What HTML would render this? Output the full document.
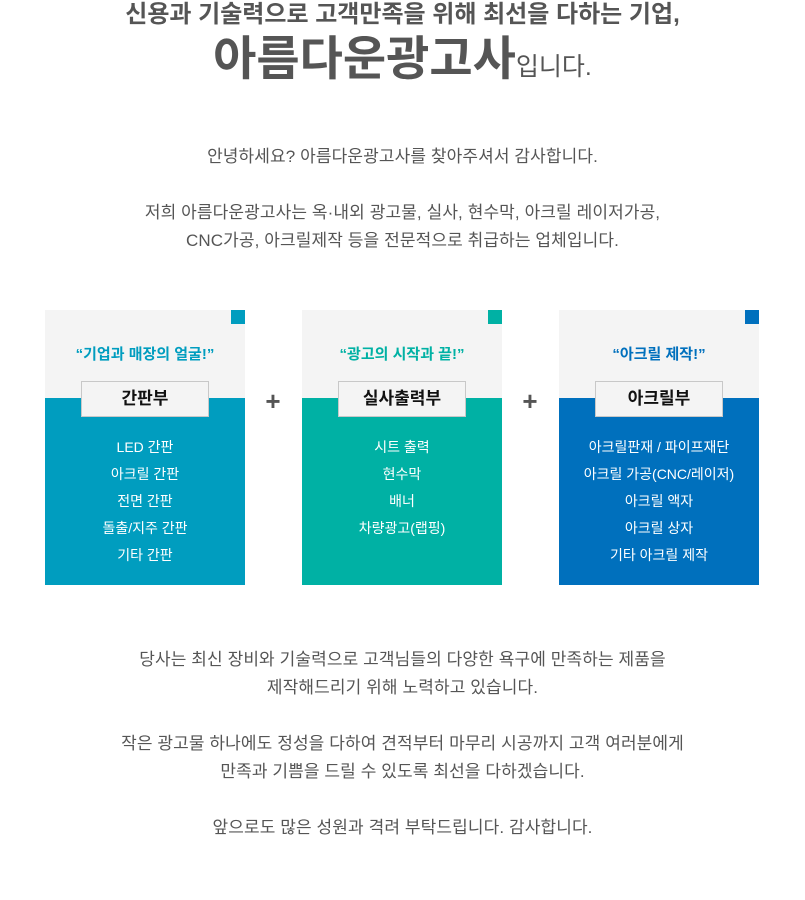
<!DOCTYPE html>
<html><head><meta charset="utf-8"><style>
*{margin:0;padding:0;box-sizing:border-box}
body{width:805px;height:900px;background:#fff;font-family:"Liberation Sans","Noto Sans CJK KR",sans-serif;color:#555;position:relative;overflow:hidden}
.t{position:absolute;left:0;width:805px;text-align:center;white-space:nowrap}
.box{position:absolute;top:310px;width:200px;height:275px;background:#f4f4f4}
.box .c{position:absolute;left:0;top:88px;width:200px;height:187px}
.box .sq{position:absolute;right:0;top:0;width:14px;height:14px}
.box .q{position:absolute;top:33px;width:200px;text-align:center;font-size:15px;font-weight:bold}
.box .l{position:absolute;left:36px;top:71px;width:128px;height:36px;background:#f4f4f4;border:1px solid #c8c8c8;text-align:center;line-height:34px;font-size:17px;font-weight:bold;color:#111}
.box .it{position:absolute;top:124px;width:200px;text-align:center;color:#fff;font-size:14px;line-height:27px}
.plus{position:absolute;top:386px;font-size:26px;font-weight:bold;color:#555;width:30px;text-align:center}
.p{font-size:17px;line-height:28px;letter-spacing:0.1px}
</style></head><body>
<div class="t" style="top:0;font-size:24px;font-weight:bold;line-height:30px">신용과 기술력으로 고객만족을 위해 최선을 다하는 기업,</div>
<div class="t" style="top:30px;font-size:47px;font-weight:bold;line-height:58px;color:#555">아름다운광고사<span style="font-size:25px;font-weight:normal">입니다.</span></div>
<div class="t p" style="top:143px">안녕하세요? 아름다운광고사를 찾아주셔서 감사합니다.</div>
<div class="t p" style="top:199px">저희 아름다운광고사는 옥·내외 광고물, 실사, 현수막, 아크릴 레이저가공,<br>CNC가공, 아크릴제작 등을 전문적으로 취급하는 업체입니다.</div>

<div class="box" style="left:45px"><div class="c" style="background:#009dbf"></div><div class="sq" style="background:#009dbf"></div><div class="q" style="color:#009dbf">“기업과 매장의 얼굴!”</div><div class="l">간판부</div><div class="it">LED 간판<br>아크릴 간판<br>전면 간판<br>돌출/지주 간판<br>기타 간판</div></div>
<div class="plus" style="left:258px">+</div>
<div class="box" style="left:302px"><div class="c" style="background:#00b1a4"></div><div class="sq" style="background:#00b1a4"></div><div class="q" style="color:#00b1a4">“광고의 시작과 끝!”</div><div class="l">실사출력부</div><div class="it">시트 출력<br>현수막<br>배너<br>차량광고(랩핑)</div></div>
<div class="plus" style="left:515px">+</div>
<div class="box" style="left:559px"><div class="c" style="background:#0070bd"></div><div class="sq" style="background:#0070bd"></div><div class="q" style="color:#0070bd">“아크릴 제작!”</div><div class="l">아크릴부</div><div class="it">아크릴판재 / 파이프재단<br>아크릴 가공(CNC/레이저)<br>아크릴 액자<br>아크릴 상자<br>기타 아크릴 제작</div></div>

<div class="t p" style="top:646px">당사는 최신 장비와 기술력으로 고객님들의 다양한 욕구에 만족하는 제품을<br>제작해드리기 위해 노력하고 있습니다.</div>
<div class="t p" style="top:730px">작은 광고물 하나에도 정성을 다하여 견적부터 마무리 시공까지 고객 여러분에게<br>만족과 기쁨을 드릴 수 있도록 최선을 다하겠습니다.</div>
<div class="t p" style="top:814px">앞으로도 많은 성원과 격려 부탁드립니다. 감사합니다.</div>
</body></html>
